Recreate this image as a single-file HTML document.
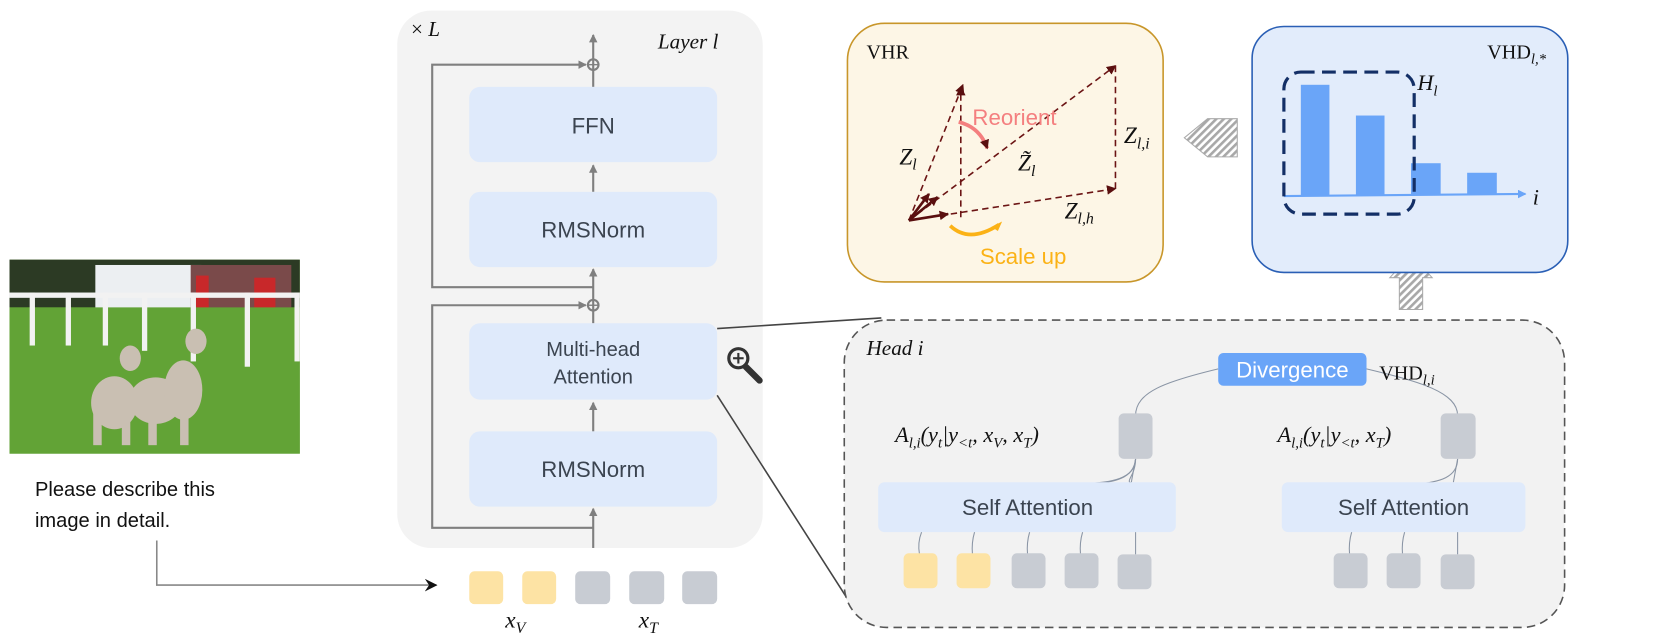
<!DOCTYPE html>
<html><head><meta charset="utf-8"><style>
html,body{margin:0;padding:0;background:#fff;}
svg{display:block;}
.h{font-family:"Liberation Sans",sans-serif;fill:#3b4450;}
.m{font-family:"Liberation Serif",serif;font-style:italic;fill:#111;}
.s{font-family:"Liberation Serif",serif;fill:#111;}
</style></head><body>
<svg width="1661" height="637" viewBox="0 0 1568 601" preserveAspectRatio="none" xmlns="http://www.w3.org/2000/svg">
<defs>
<marker id="ag" markerWidth="8" markerHeight="8" refX="7" refY="4" orient="auto" markerUnits="userSpaceOnUse"><path d="M0,0 L8,4 L0,8 Z" fill="#7f7f7f"/></marker>
<marker id="ak" markerWidth="12" markerHeight="12" refX="11" refY="6" orient="auto" markerUnits="userSpaceOnUse"><path d="M0,0 L12,6 L0,12 L4,6 Z" fill="#111"/></marker>
<marker id="ar" markerWidth="9" markerHeight="9" refX="8" refY="4.5" orient="auto" markerUnits="userSpaceOnUse"><path d="M0,0 L9,4.5 L0,9 Z" fill="#5a0f0f"/></marker>
<marker id="ab" markerWidth="8" markerHeight="8" refX="7" refY="4" orient="auto" markerUnits="userSpaceOnUse"><path d="M0,0 L8,4 L0,8 Z" fill="#6aa5f8"/></marker>
<pattern id="hatch" width="5" height="5" patternUnits="userSpaceOnUse" patternTransform="rotate(45)"><rect width="5" height="5" fill="#fff"/><rect width="2.5" height="5" fill="#a8a8a8"/></pattern>
</defs>

<!-- image -->
<rect x="9" y="245" width="274" height="183" fill="#5d9a2f"/>
<rect x="9" y="245" width="274" height="45" fill="#2c3a24"/>
<rect x="90" y="250" width="100" height="45" fill="#eceff2"/>
<rect x="180" y="250" width="95" height="70" fill="#7a4a4a"/>
<rect x="185" y="260" width="12" height="35" fill="#c8282a"/>
<rect x="240" y="262" width="20" height="32" fill="#c8282a"/>
<rect x="9" y="290" width="274" height="138" fill="#62a336"/>
<rect x="9" y="276" width="274" height="5" fill="#f2f2f2"/>
<g fill="#f2f2f2"><rect x="28" y="276" width="5" height="50"/><rect x="62" y="276" width="5" height="50"/><rect x="97" y="276" width="5" height="50"/><rect x="134" y="276" width="5" height="55"/><rect x="180" y="276" width="5" height="65"/><rect x="231" y="276" width="5" height="70"/><rect x="278" y="276" width="5" height="65"/></g>
<g fill="#c9bfb2"><ellipse cx="108" cy="380" rx="22" ry="25"/><ellipse cx="147" cy="378" rx="25" ry="22"/><ellipse cx="173" cy="368" rx="18" ry="28"/><rect x="88" y="390" width="8" height="30"/><rect x="115" y="390" width="8" height="30"/><rect x="140" y="390" width="8" height="30"/><rect x="170" y="390" width="8" height="30"/><ellipse cx="123" cy="338" rx="10" ry="12"/><ellipse cx="185" cy="322" rx="10" ry="12"/></g>

<text x="33" y="468" class="h" style="fill:#111" font-size="19">Please describe this</text>
<text x="33" y="497" class="h" style="fill:#111" font-size="19">image in detail.</text>
<polyline points="148,510 148,552 412,552" fill="none" stroke="#888" stroke-width="1.5" marker-end="url(#ak)"/>

<!-- layer -->
<rect x="375" y="10" width="345" height="507" rx="32" fill="#f3f3f3"/>
<text x="388" y="34" class="s" font-size="20">× <tspan font-style="italic">L</tspan></text>
<text x="621" y="46" class="m" font-size="20">Layer l</text>
<g stroke="#7f7f7f" stroke-width="2" fill="none">
<line x1="560" y1="517" x2="560" y2="480" marker-end="url(#ag)"/>
<line x1="560" y1="407" x2="560" y2="380" marker-end="url(#ag)"/>
<line x1="560" y1="305" x2="560" y2="254" marker-end="url(#ag)"/>
<line x1="560" y1="181" x2="560" y2="156" marker-end="url(#ag)"/>
<line x1="560" y1="82" x2="560" y2="33" marker-end="url(#ag)"/>
<polyline points="560,498 408,498 408,288 553,288" marker-end="url(#ag)"/>
<polyline points="560,271 408,271 408,61 553,61" marker-end="url(#ag)"/>
<circle cx="560" cy="61" r="5"/><circle cx="560" cy="288" r="5"/>
</g>
<g stroke="#7f7f7f" stroke-width="1.3"><line x1="555" y1="61" x2="565" y2="61"/><line x1="555" y1="288" x2="565" y2="288"/></g>
<g fill="#dfeafb">
<rect x="443" y="82" width="234" height="71" rx="10"/>
<rect x="443" y="181" width="234" height="71" rx="10"/>
<rect x="443" y="305" width="234" height="72" rx="10"/>
<rect x="443" y="407" width="234" height="71" rx="10"/>
</g>
<text x="560" y="126" class="h" font-size="21" text-anchor="middle">FFN</text>
<text x="560" y="224" class="h" font-size="21" text-anchor="middle">RMSNorm</text>
<text x="560" y="336" class="h" font-size="19" text-anchor="middle">Multi-head</text>
<text x="560" y="362" class="h" font-size="19" text-anchor="middle">Attention</text>
<text x="560" y="450" class="h" font-size="21" text-anchor="middle">RMSNorm</text>

<!-- tokens -->
<g><rect x="443" y="539" width="32" height="31" rx="5" fill="#fde3a4"/><rect x="493" y="539" width="32" height="31" rx="5" fill="#fde3a4"/>
<rect x="543" y="539" width="33" height="31" rx="5" fill="#c8ccd3"/><rect x="594" y="539" width="33" height="31" rx="5" fill="#c8ccd3"/><rect x="644" y="539" width="33" height="31" rx="5" fill="#c8ccd3"/></g>
<text x="477" y="592" class="m" font-size="22">x<tspan font-size="15" dy="5">V</tspan></text>
<text x="603" y="592" class="m" font-size="22">x<tspan font-size="15" dy="5">T</tspan></text>

<!-- zoom icon -->
<circle cx="697" cy="338" r="9" fill="none" stroke="#333" stroke-width="3"/>
<line x1="692" y1="338" x2="702" y2="338" stroke="#333" stroke-width="2"/><line x1="697" y1="333" x2="697" y2="343" stroke="#333" stroke-width="2"/>
<line x1="704" y1="346" x2="717" y2="359" stroke="#333" stroke-width="6" stroke-linecap="round"/>

<line x1="677" y1="310" x2="832" y2="300" stroke="#444" stroke-width="1.5"/>
<line x1="677" y1="373" x2="800" y2="565" stroke="#444" stroke-width="1.5"/>

<!-- VHR -->
<rect x="800" y="22" width="298" height="244" rx="35" fill="#fdf6e6" stroke="#c8962a" stroke-width="1.5"/>
<text x="818" y="55" class="s" font-size="19">VHR</text>
<g stroke="#6b1414" stroke-width="1.5" stroke-dasharray="6,4" fill="none">
<line x1="858" y1="208" x2="909" y2="80" marker-end="url(#ar)"/>
<line x1="907" y1="205" x2="907" y2="82" marker-end="url(#ar)"/>
<line x1="858" y1="208" x2="1053" y2="62" marker-end="url(#ar)"/>
<line x1="1053" y1="178" x2="1053" y2="62"/>
<line x1="858" y1="208" x2="1053" y2="178" marker-end="url(#ar)"/>
</g>
<g stroke="#5a0f0f" stroke-width="2.5"><line x1="858" y1="208" x2="877" y2="183" marker-end="url(#ar)"/><line x1="858" y1="208" x2="885" y2="186" marker-end="url(#ar)"/><line x1="858" y1="208" x2="895" y2="202" marker-end="url(#ar)"/></g>
<path d="M905,115 Q925,120 932,140" fill="none" stroke="#f47f7f" stroke-width="3.5" marker-end="url(#ar)"/>
<path d="M897,213 Q915,230 943,212" fill="none" stroke="#fbb216" stroke-width="3.5"/>
<path d="M936,214 L946,209 L942,218 Z" fill="#fbb216"/>
<text x="918" y="118" class="h" font-size="21" style="fill:#f47f7f">Reorient</text>
<text x="925" y="249" class="h" font-size="21" style="fill:#fbb216">Scale up</text>
<text x="849" y="155" class="m" font-size="22">Z<tspan font-size="15" dy="5">l</tspan></text>
<text x="961" y="161" class="m" font-size="22">Z̃<tspan font-size="15" dy="5">l</tspan></text>
<text x="1061" y="135" class="m" font-size="22">Z<tspan font-size="15" dy="5">l,i</tspan></text>
<text x="1005" y="206" class="m" font-size="22">Z<tspan font-size="15" dy="5">l,h</tspan></text>

<!-- hatched arrows -->
<path d="M1118,130 L1140,112 L1168,112 L1168,148 L1140,148 Z" fill="url(#hatch)" stroke="#aaa"/>
<path d="M1332,240 L1352,262 L1343,262 L1343,292 L1321,292 L1321,262 L1312,262 Z" fill="url(#hatch)" stroke="#aaa"/>

<!-- VHD -->
<rect x="1182" y="25" width="298" height="232" rx="30" fill="#e2ecfb" stroke="#2a5fb5" stroke-width="1.5"/>
<text x="1404" y="55" class="s" font-size="19">VHD<tspan font-size="14" dy="5" font-style="italic">l,*</tspan></text>
<g fill="#6aa5f8"><rect x="1228" y="80" width="27" height="104"/><rect x="1280" y="109" width="27" height="75"/><rect x="1332" y="154" width="28" height="30"/><rect x="1385" y="163" width="28" height="21"/></g>
<line x1="1212" y1="185" x2="1440" y2="183" stroke="#6aa5f8" stroke-width="2" marker-end="url(#ab)"/>
<rect x="1212" y="68" width="123" height="134" rx="16" fill="none" stroke="#132f66" stroke-width="3" stroke-dasharray="13,7"/>
<text x="1338" y="85" class="m" font-size="21">H<tspan font-size="14" dy="5">l</tspan></text>
<text x="1447" y="193" class="m" font-size="21">i</text>

<!-- Head -->
<rect x="797" y="302" width="680" height="290" rx="40" fill="#f2f2f2" stroke="#555" stroke-width="1.5" stroke-dasharray="8,5"/>
<text x="818" y="335" class="m" font-size="20">Head i</text>
<g stroke="#8a95a5" stroke-width="1" fill="none">
<path d="M1150,348 C1100,360 1072,370 1072,392"/>
<path d="M1290,348 C1340,360 1376,370 1376,392"/>
<path d="M1072,433 C1072,455 1040,455 1020,457"/><path d="M1072,433 C1070,455 1045,455 1023,458"/><path d="M1072,433 C1072,450 1060,455 1070,456"/><path d="M1072,433 L1068,455"/>
<path d="M1376,433 C1376,450 1360,455 1335,457"/><path d="M1376,433 L1372,455"/>
<path d="M870,502 Q866,512 868,523"/><path d="M920,502 Q917,512 918,523"/><path d="M972,502 Q969,512 970,523"/><path d="M1022,502 Q1019,512 1020,523"/><path d="M1072,502 L1072,523"/>
<path d="M1276,502 Q1273,512 1274,523"/><path d="M1326,502 Q1323,512 1324,523"/><path d="M1376,502 L1376,523"/>
</g>
<rect x="1150" y="333" width="140" height="31" rx="5" fill="#6aa5f8"/>
<text x="1220" y="356" class="h" font-size="21" text-anchor="middle" style="fill:#fff">Divergence</text>
<text x="1302" y="358" class="s" font-size="19">VHD<tspan font-size="14" dy="5" font-style="italic">l,i</tspan></text>
<rect x="1056" y="390" width="32" height="43" rx="5" fill="#c8ccd3"/>
<rect x="1360" y="390" width="33" height="43" rx="5" fill="#c8ccd3"/>
<text x="845" y="417" class="m" font-size="21">A<tspan font-size="14" dy="5">l,i</tspan><tspan dy="-5">(y</tspan><tspan font-size="14" dy="5">t</tspan><tspan dy="-5">|y</tspan><tspan font-size="14" dy="5">&lt;t</tspan><tspan dy="-5">, x</tspan><tspan font-size="14" dy="5">V</tspan><tspan dy="-5">, x</tspan><tspan font-size="14" dy="5">T</tspan><tspan dy="-5">)</tspan></text>
<text x="1206" y="417" class="m" font-size="21">A<tspan font-size="14" dy="5">l,i</tspan><tspan dy="-5">(y</tspan><tspan font-size="14" dy="5">t</tspan><tspan dy="-5">|y</tspan><tspan font-size="14" dy="5">&lt;t</tspan><tspan dy="-5">, x</tspan><tspan font-size="14" dy="5">T</tspan><tspan dy="-5">)</tspan></text>
<rect x="829" y="455" width="281" height="47" rx="6" fill="#dfeafb"/>
<rect x="1210" y="455" width="230" height="47" rx="6" fill="#dfeafb"/>
<text x="970" y="486" class="h" font-size="21" text-anchor="middle">Self Attention</text>
<text x="1325" y="486" class="h" font-size="21" text-anchor="middle">Self Attention</text>
<g fill="#c8ccd3"><rect x="853" y="522" width="32" height="33" rx="5" fill="#fde3a4"/><rect x="903" y="522" width="32" height="33" rx="5" fill="#fde3a4"/>
<rect x="955" y="522" width="32" height="33" rx="5"/><rect x="1005" y="522" width="32" height="33" rx="5"/><rect x="1055" y="523" width="32" height="33" rx="5"/>
<rect x="1259" y="522" width="32" height="33" rx="5"/><rect x="1309" y="522" width="32" height="33" rx="5"/><rect x="1360" y="523" width="32" height="33" rx="5"/></g>
</svg>
</body></html>
